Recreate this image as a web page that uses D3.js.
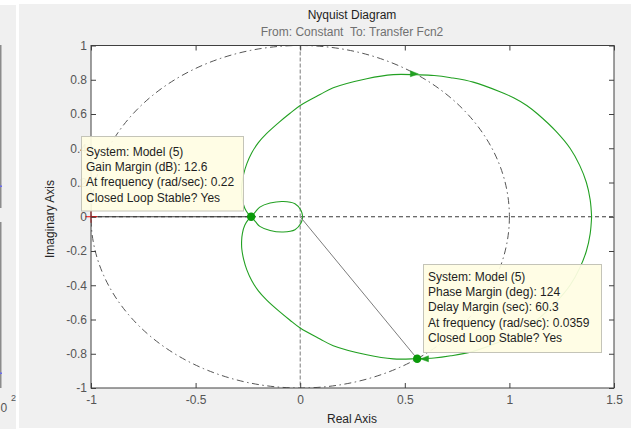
<!DOCTYPE html>
<html>
<head>
<meta charset="utf-8">
<script src="https://cdn.jsdelivr.net/npm/d3@7"></script>
<style>
  html, body { margin: 0; padding: 0; background: #ffffff; }
  svg { display: block; font-family: "Liberation Sans", Arial, Helvetica, sans-serif; }
</style>
</head>
<body>
<script>
// Positive-frequency branch of the open-loop frequency response G(jw), w = 0 -> inf
const branchRe = [1.393, 1.386, 1.368, 1.336, 1.290, 1.222, 1.135, 1.083, 1.020, 0.955, 0.827, 0.720, 0.640, 0.559,
                  0.445, 0.318, 0.158, 0.095, 0.000, -0.050, -0.100, -0.160, -0.200, -0.232, -0.255, -0.270,
                  -0.279, -0.280, -0.276, -0.265, -0.250, -0.234, -0.213, -0.193, -0.144, -0.081, -0.025, 0.004, 0.012];
const branchIm = [0.000, -0.100, -0.200, -0.300, -0.400, -0.500, -0.600, -0.650, -0.695, -0.730, -0.786, -0.812, -0.825, -0.829,
                  -0.830, -0.806, -0.753, -0.714, -0.650, -0.603, -0.553, -0.487, -0.433, -0.372, -0.310, -0.250,
                  -0.190, -0.140, -0.095, -0.050, -0.020, 0.000, 0.030, 0.056, 0.080, 0.089, 0.076, 0.037, 0.000];

// Stability margins reported in the data tips
const gainMarginDb = 12.6;
const phaseMarginDeg = 124;

const xTicks = [-1, -0.5, 0, 0.5, 1, 1.5];
const xTickLabels = ["-1", "-0.5", "0", "0.5", "1", "1.5"];
const yTicks = [-1, -0.8, -0.6, -0.4, -0.2, 0, 0.2, 0.4, 0.6, 0.8, 1];
const yTickLabels = ["-1", "-0.8", "-0.6", "-0.4", "-0.2", "0", "0.2", "0.4", "0.6", "0.8", "1"];

const gmTipLines = ["System: Model (5)", "Gain Margin (dB): 12.6", "At frequency (rad/sec): 0.22", "Closed Loop Stable? Yes"];
const pmTipLines = ["System: Model (5)", "Phase Margin (deg): 124", "Delay Margin (sec): 60.3",
                    "At frequency (rad/sec): 0.0359", "Closed Loop Stable? Yes"];

const W = 631, H = 431;
const plot = { left: 91, right: 614, top: 45.5, bottom: 388 };

const svg = d3.select("body").append("svg").attr("width", W).attr("height", H);

// Figure panels
svg.append("rect").attr("x", 0).attr("y", 5).attr("width", 16).attr("height", 424).attr("fill", "#f0f0f0");
svg.append("rect").attr("x", 19).attr("y", 4).attr("width", 612).attr("height", 424).attr("fill", "#f0f0f0");

// Edge of the neighbouring figure
svg.append("rect").attr("x", 0).attr("y", 45).attr("width", 1.5).attr("height", 163).attr("fill", "#8c8c8c");
svg.append("rect").attr("x", 0).attr("y", 222).attr("width", 1.5).attr("height", 166).attr("fill", "#8c8c8c");
svg.append("rect").attr("x", 0).attr("y", 185.5).attr("width", 2).attr("height", 1.5).attr("fill", "#6b6bf0");
svg.append("rect").attr("x", 0).attr("y", 372.5).attr("width", 2).attr("height", 1.5).attr("fill", "#6b6bf0");
svg.append("text").attr("x", 0.5).attr("y", 412).attr("font-size", 12).attr("fill", "#555").text("0");
svg.append("text").attr("x", 11).attr("y", 400.5).attr("font-size", 9).attr("fill", "#555").text("2");

const x = d3.scaleLinear().domain([-1, 1.5]).range([plot.left, plot.right]);
const y = d3.scaleLinear().domain([-1, 1]).range([plot.bottom, plot.top]);

// Plot background
svg.append("rect").attr("x", plot.left).attr("y", plot.top)
  .attr("width", plot.right - plot.left).attr("height", plot.bottom - plot.top).attr("fill", "#ffffff");

svg.append("clipPath").attr("id", "plotClip").append("rect")
  .attr("x", plot.left).attr("y", plot.top)
  .attr("width", plot.right - plot.left).attr("height", plot.bottom - plot.top);

const inner = svg.append("g").attr("clip-path", "url(#plotClip)");

// Unit circle
inner.append("ellipse")
  .attr("cx", x(0)).attr("cy", y(0))
  .attr("rx", x(1) - x(0)).attr("ry", y(0) - y(1))
  .attr("fill", "none").attr("stroke", "#555").attr("stroke-width", 1)
  .attr("stroke-dasharray", "7,3.5,1.5,3.5");

// Real and imaginary axis lines
inner.append("line").attr("x1", plot.left).attr("x2", plot.right).attr("y1", y(0)).attr("y2", y(0))
  .attr("stroke", "#3a3a3a").attr("stroke-width", 1).attr("stroke-dasharray", "4,3");
inner.append("line").attr("x1", x(0)).attr("x2", x(0)).attr("y1", plot.top).attr("y2", plot.bottom)
  .attr("stroke", "#7a7a7a").attr("stroke-width", 1).attr("stroke-dasharray", "4,2");

// Margin points
const gmRe = -Math.pow(10, -gainMarginDb / 20);
const pmAngle = (phaseMarginDeg - 180) * Math.PI / 180;
const pmRe = Math.cos(pmAngle), pmIm = Math.sin(pmAngle);

// Nyquist curve: positive branch and its mirror image for negative frequencies
const pos = branchRe.map((r, i) => [r, branchIm[i]]);
const neg = pos.map(p => [p[0], -p[1]]);
const line = d3.line().x(d => x(d[0])).y(d => y(d[1])).curve(d3.curveCatmullRom.alpha(0.5));
const green = "#22a022";
inner.append("path").attr("d", line(pos)).attr("fill", "none").attr("stroke", green).attr("stroke-width", 1.1);
inner.append("path").attr("d", line(neg)).attr("fill", "none").attr("stroke", green).attr("stroke-width", 1.1);

// Phase margin line from the origin
inner.append("line").attr("x1", x(0)).attr("y1", y(0)).attr("x2", x(pmRe)).attr("y2", y(pmIm))
  .attr("stroke", "#7d7d7d").attr("stroke-width", 1);

// Critical point -1
const cx1 = x(-1), cy1 = y(0);
svg.append("line").attr("x1", cx1 - 6).attr("x2", cx1 + 6).attr("y1", cy1).attr("y2", cy1).attr("stroke", "#ff0000");
svg.append("line").attr("x1", cx1).attr("x2", cx1).attr("y1", cy1 - 6).attr("y2", cy1 + 6).attr("stroke", "#ff0000");

// Gain margin segment on the real axis
inner.append("line").attr("x1", x(-1)).attr("x2", x(gmRe)).attr("y1", y(0)).attr("y2", y(0))
  .attr("stroke", "#333").attr("stroke-width", 1);

// Direction arrows
function arrow(tipRe, tipIm, dirRe, dirIm) {
  const tx = x(tipRe), ty = y(tipIm);
  const ang = Math.atan2(-(dirIm), dirRe * (x(1) - x(0)) / (y(0) - y(1)));
  const len = 8, half = 3;
  const bx = tx - len * Math.cos(ang), by = ty - len * Math.sin(ang);
  const px = -Math.sin(ang) * half, py = Math.cos(ang) * half;
  inner.append("path")
    .attr("d", `M${tx},${ty}L${bx + px},${by + py}L${bx - px},${by - py}Z`)
    .attr("fill", green).attr("stroke", green).attr("stroke-width", 0.5);
}
arrow(0.565, 0.834, 1, -0.02);
arrow(0.575, -0.830, -1, -0.01);

// Margin markers
inner.append("circle").attr("cx", x(gmRe)).attr("cy", y(0)).attr("r", 4.2).attr("fill", "#0a9a0a");
inner.append("circle").attr("cx", x(pmRe)).attr("cy", y(pmIm)).attr("r", 4.2).attr("fill", "#0a9a0a");

// Axes with inward ticks
function styleAxis(g) {
  g.select(".domain").remove();
  g.selectAll(".tick line").attr("stroke", "#404040");
  g.selectAll(".tick text").attr("fill", "#555").attr("font-size", 12)
    .attr("font-family", "\"Liberation Sans\", Arial, sans-serif");
}
svg.append("g").attr("transform", `translate(0,${plot.bottom})`)
  .call(d3.axisBottom(x).tickValues(xTicks).tickFormat((d, i) => xTickLabels[i])
    .tickSizeInner(-5).tickSizeOuter(0).tickPadding(7)).call(styleAxis);
svg.append("g").attr("transform", `translate(0,${plot.top})`)
  .call(d3.axisTop(x).tickValues(xTicks).tickFormat("").tickSizeInner(-5).tickSizeOuter(0)).call(styleAxis);
svg.append("g").attr("transform", `translate(${plot.left},0)`)
  .call(d3.axisLeft(y).tickValues(yTicks).tickFormat((d, i) => yTickLabels[i])
    .tickSizeInner(-5).tickSizeOuter(0).tickPadding(4)).call(styleAxis);
svg.append("g").attr("transform", `translate(${plot.right},0)`)
  .call(d3.axisRight(y).tickValues(yTicks).tickFormat("").tickSizeInner(-5).tickSizeOuter(0)).call(styleAxis);

// Axes box
svg.append("rect").attr("x", plot.left).attr("y", plot.top)
  .attr("width", plot.right - plot.left).attr("height", plot.bottom - plot.top)
  .attr("fill", "none").attr("stroke", "#404040").attr("stroke-width", 1);

// Titles and axis labels
svg.append("text").attr("x", 352).attr("y", 18.5).attr("text-anchor", "middle")
  .attr("font-size", 12).attr("fill", "#1e1e1e").text("Nyquist Diagram");
svg.append("text").attr("x", 352).attr("y", 35.5).attr("text-anchor", "middle")
  .attr("font-size", 12).attr("fill", "#707070").style("white-space", "pre")
  .text("From: Constant  To: Transfer Fcn2");
svg.append("text").attr("x", 352).attr("y", 422.5).attr("text-anchor", "middle")
  .attr("font-size", 12).attr("fill", "#262626").text("Real Axis");
svg.append("text").attr("transform", "translate(53.5,219) rotate(-90)").attr("text-anchor", "middle")
  .attr("font-size", 12).attr("fill", "#262626").text("Imaginary Axis");

// Data tips
function dataTip(bx, by, bw, bh, firstBaseline, lines) {
  const g = svg.append("g");
  g.append("rect").attr("x", bx).attr("y", by).attr("width", bw).attr("height", bh)
    .attr("fill", "#fffde3").attr("fill-opacity", 0.93).attr("stroke", "#c4c4b8").attr("stroke-width", 1);
  g.selectAll("text").data(lines).join("text")
    .attr("x", bx + 4.5).attr("y", (d, i) => firstBaseline + i * 15.35)
    .attr("font-size", 12).attr("fill", "#1e1e1e").text(d => d);
}
dataTip(81.5, 136.5, 162, 74.5, 155.7, gmTipLines);
dataTip(423.5, 264.5, 178, 88, 280.7, pmTipLines);
</script>
</body>
</html>
